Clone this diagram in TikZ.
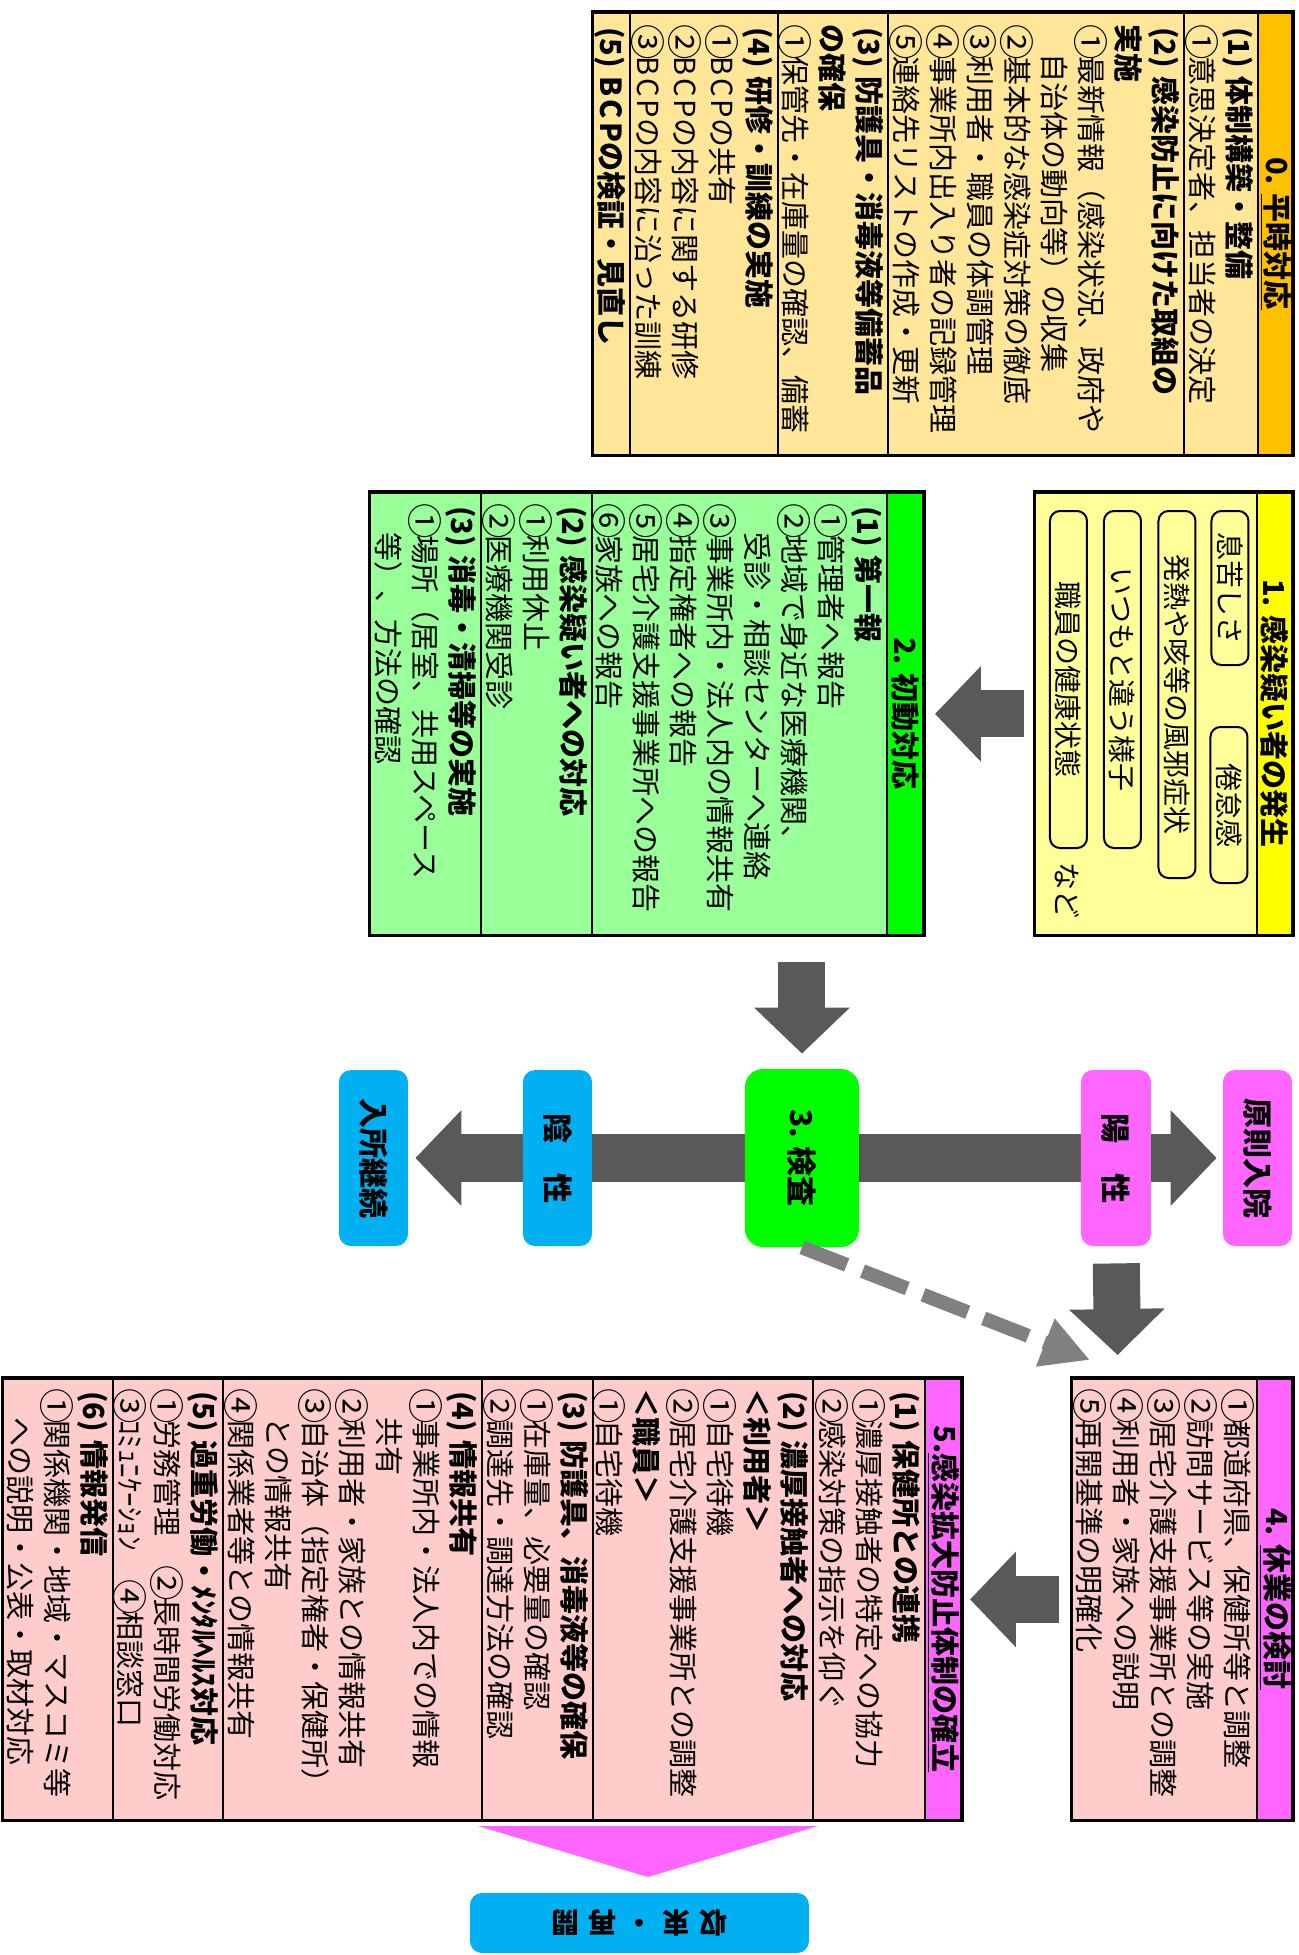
\documentclass[tikz,border=0pt]{standalone}
\usepackage{fontspec}
\setmainfont{Noto Sans CJK JP}
\usetikzlibrary{arrows.meta}
\pgfdeclarelayer{bg}
\pgfsetlayers{bg,main}
\definecolor{orgH}{HTML}{FFC000}
\definecolor{orgB}{HTML}{FFE699}
\definecolor{yelH}{HTML}{FFFF00}
\definecolor{yelB}{HTML}{FFFF99}
\definecolor{grnH}{HTML}{00FF00}
\definecolor{grnB}{HTML}{99FF99}
\definecolor{magH}{HTML}{FF66FF}
\definecolor{pnkB}{HTML}{FFCCCC}
\definecolor{bluH}{HTML}{00B0F0}
\definecolor{arrG}{HTML}{595959}
\definecolor{dashG}{HTML}{808080}
\newcommand\sT{\rule{0pt}{13.5pt}}
\newcommand\cn[1]{\makebox[1.1em][l]{\raisebox{-0.08em}{\scalebox{1.22}{#1}}}}
\newcommand\pn[1]{\kern.1em(#1)\kern.3em}
\newcommand\bcp{B\kern.1em C\kern.1em P}
\tikzset{
 tx/.style={anchor=north west, inner sep=0pt, align=left, font=\fontsize{14.5}{18.5}\selectfont},
 hd/.style={inner sep=0pt, font=\bfseries\fontsize{14.5}{18.5}\selectfont},
 bx/.style={anchor=north west, inner sep=0pt, draw=none},
 frame/.style={line width=1.6pt},
 divl/.style={line width=1.2pt},
 pill/.style={rounded corners=6pt, inner sep=0pt, font=\bfseries\fontsize{15}{18}\selectfont},
 sym/.style={draw, line width=1pt, rounded corners=5pt, inner sep=0pt, minimum height=18.5pt, font=\fontsize{14}{17}\selectfont},
 blk/.style={draw=arrG, line width=23.5pt, -{Triangle[length=23pt,width=46.5pt]}},
 dsh/.style={draw=dashG, line width=7pt, dash pattern=on 24pt off 8.5pt, -{Triangle[length=24pt,width=24pt]}},
}
\begin{document}
\begin{tikzpicture}[x=0.5pt,y=0.5pt,rotate=-90,transform shape]
\useasboundingbox (0,0) rectangle (1955,-1298);

% ---------- box 0
\node[bx,fill=orgB,minimum width=221.5pt,minimum height=350pt] (b0) at (12,-5) {};
\fill[orgH] (12,-5) rectangle (455,-40);
\foreach \y in {40,114,410,520,668} \draw[divl] (12,-\y) -- (455,-\y);
\draw[frame] (b0.north west) rectangle (b0.south east);
\node[hd] (h0) at (233.5,-22.5) {0. \underline{平時対応}};
\node[tx] (t01) at (24,-42.5) {\sT{\bfseries \pn{1}体制構築・整備}\\\cn{①}意思決定者、担当者の決定};
\node[tx] (t02) at (24,-116.5) {\sT{\bfseries \pn{2}感染防止に向けた取組の}\\{\bfseries 実施}\\\cn{①}最新情報（感染状況、政府や\\　自治体の動向等）の収集\\\cn{②}基本的な感染症対策の徹底\\\cn{③}利用者・職員の体調管理\\\cn{④}事業所内出入り者の記録管理\\\cn{⑤}連絡先リストの作成・更新};
\node[tx] (t03) at (24,-412.5) {\sT{\bfseries \pn{3}防護具・消毒液等備蓄品}\\{\bfseries の確保}\\\cn{①}保管先・在庫量の確認、備蓄};
\node[tx] (t04) at (24,-522.5) {\sT{\bfseries \pn{4}研修・訓練の実施}\\\cn{①}\bcp の共有\\\cn{②}\bcp の内容に関する研修\\\cn{③}\bcp の内容に沿った訓練};
\node[tx] (t05) at (24,-670.5) {\sT{\bfseries \pn{5}\bcp の検証・見直し}};

% ---------- box 1
\node[bx,fill=yelB,minimum width=221.5pt,minimum height=129pt] (b1) at (492,-5) {};
\fill[yelH] (492,-5) rectangle (935,-41);
\draw[divl] (492,-41) -- (935,-41);
\draw[frame] (b1.north west) rectangle (b1.south east);
\node[hd] (h1) at (713.5,-23) {1. 感染疑い者の発生};
\node[sym,minimum width=77pt] (s1) at (588,-68) {息苦しさ};
\node[sym,minimum width=78pt] (s2) at (805,-69) {倦怠感};
\node[sym,minimum width=183.5pt] (s3) at (694.5,-121) {発熱や咳等の風邪症状};
\node[sym,minimum width=168.5pt] (s4) at (679.5,-175.5) {いつもと違う様子};
\node[sym,minimum width=168.5pt] (s5) at (679.5,-229.5) {職員の健康状態};
\node[inner sep=0pt,anchor=west,font=\fontsize{14}{17}\selectfont] (nado) at (862,-231) {など};

% ---------- box 2
\node[bx,fill=grnB,minimum width=221.5pt,minimum height=277pt] (b2) at (492,-374) {};
\fill[grnH] (492,-374) rectangle (935,-411);
\foreach \y in {411,706,817} \draw[divl] (492,-\y) -- (935,-\y);
\draw[frame] (b2.north west) rectangle (b2.south east);
\node[hd] (h2) at (713.5,-392.5) {2. 初動対応};
\node[tx] (t21) at (503,-413.5) {\sT{\bfseries \pn{1}第一報}\\\cn{①}管理者へ報告\\\cn{②}地域で身近な医療機関、\\　受診・相談センターへ連絡\\\cn{③}事業所内・法人内の情報共有\\\cn{④}指定権者への報告\\\cn{⑤}居宅介護支援事業所への報告\\\cn{⑥}家族への報告};
\node[tx] (t22) at (503,-708.5) {\sT{\bfseries \pn{2}感染疑い者への対応}\\\cn{①}利用休止\\\cn{②}医療機関受診};
\node[tx] (t23) at (503,-819.5) {\sT{\bfseries \pn{3}消毒・清掃等の実施}\\\cn{①}場所（居室、共用スペース\\　等）、方法の確認};

% ---------- box 4
\node[bx,fill=pnkB,minimum width=221pt,minimum height=110.5pt] (b4) at (1378,-5) {};
\fill[magH] (1378,-5) rectangle (1820,-41);
\draw[divl] (1378,-41) -- (1820,-41);
\draw[frame] (b4.north west) rectangle (b4.south east);
\node[hd] (h4) at (1599,-23) {4. \underline{休業の検討}};
\node[tx] (t41) at (1388,-43.5) {\sT\cn{①}都道府県、保健所等と調整\\\cn{②}訪問サービス等の実施\\\cn{③}居宅介護支援事業所との調整\\\cn{④}利用者・家族への説明\\\cn{⑤}再開基準の明確化};

% ---------- box 5
\node[bx,fill=pnkB,minimum width=221pt,minimum height=479.5pt] (b5) at (1378,-336) {};
\fill[magH] (1378,-336) rectangle (1820,-373);
\foreach \y in {373,485,705,816,1075,1185} \draw[divl] (1378,-\y) -- (1820,-\y);
\draw[frame] (b5.north west) rectangle (b5.south east);
\node[hd] (h5) at (1599,-354.5) {5.\underline{感染拡大防止体制の確立}};
\node[tx] (t51) at (1388,-375.5) {\sT{\bfseries \pn{1}保健所との連携}\\\cn{①}濃厚接触者の特定への協力\\\cn{②}感染対策の指示を仰ぐ};
\node[tx] (t52) at (1388,-487.5) {\sT{\bfseries \pn{2}濃厚接触者への対応}\\{\bfseries ＜利用者＞}\\\cn{①}自宅待機\\\cn{②}居宅介護支援事業所との調整\\{\bfseries ＜職員＞}\\\cn{①}自宅待機};
\node[tx] (t53) at (1388,-707.5) {\sT{\bfseries \pn{3}防護具、消毒液等の確保}\\\cn{①}在庫量、必要量の確認\\\cn{②}調達先・調達方法の確認};
\node[tx] (t54) at (1388,-818.5) {\sT{\bfseries \pn{4}情報共有}\\\cn{①}事業所内・法人内での情報\\　共有\\\cn{②}利用者・家族との情報共有\\\cn{③}自治体（指定権者・保健所）\\　との情報共有\\\cn{④}関係業者等との情報共有};
\node[tx] (t55) at (1388,-1077.5) {\sT{\bfseries \pn{5}過重労働・ﾒﾝﾀﾙﾍﾙｽ対応}\\\cn{①}労務管理　\cn{②}長時間労働対応\\\cn{③}ｺﾐｭﾆｹｰｼｮﾝ　\cn{④}相談窓口};
\node[tx] (t56) at (1388,-1187.5) {\sT{\bfseries \pn{6}情報発信}\\\cn{①}関係機関・地域・マスコミ等\\　への説明・公表・取材対応};

% ---------- middle row
\node[pill,fill=grnH,rounded corners=9pt,minimum width=89pt,minimum height=57pt] (kensa) at (1158,-496) {3. 検査};
\node[pill,fill=magH,minimum width=88pt,minimum height=35pt] (yosei) at (1158,-182) {陽　性};
\node[pill,fill=magH,minimum width=88pt,minimum height=34.5pt] (gensoku) at (1158,-40.5) {原則入院};
\node[pill,fill=bluH,minimum width=88pt,minimum height=34.5pt] (insei) at (1158,-740.5) {陰　性};
\node[pill,fill=bluH,minimum width=88pt,minimum height=34.5pt] (nyusho) at (1158,-924.5) {入所継続};

% ---------- final box
\node[pill,fill=bluH,rotate=-90,minimum width=169.5pt,minimum height=30pt,font=\bfseries\fontsize{14}{17}\selectfont] (shushu) at (1923,-658.5) {収\hspace{4.5pt}束\hspace{4.5pt}・\hspace{4.5pt}再\hspace{4.5pt}開};
\fill[magH] (1826,-480) -- (1826,-820) -- (1877,-650) -- cycle;

% ---------- arrows
\coordinate (a2kS) at (935,-496);
\coordinate (y4E) at (1378,-180);
\coordinate (dtip) at (1360,-208);
\begin{pgfonlayer}{bg}
\draw[blk, shorten <=5pt, shorten >=5.5pt] (b1.south) -- (b2.north);
\draw[blk, shorten <=13.5pt, shorten >=7.5pt] (a2kS) -- (kensa.west);
\draw[blk, line width=24pt, shorten >=3pt] (kensa.north) -- (gensoku.south);
\draw[blk, line width=24pt, shorten >=3.5pt] (kensa.south) -- (nyusho.north);
\draw[blk, shorten <=8.5pt, shorten >=11.5pt] (yosei.east) -- (y4E);
\draw[blk, shorten <=6pt, shorten >=4pt] (b4.south) -- (b5.north);
\end{pgfonlayer}
\draw[dsh] (kensa.east) -- (dtip);
\end{tikzpicture}
\end{document}
